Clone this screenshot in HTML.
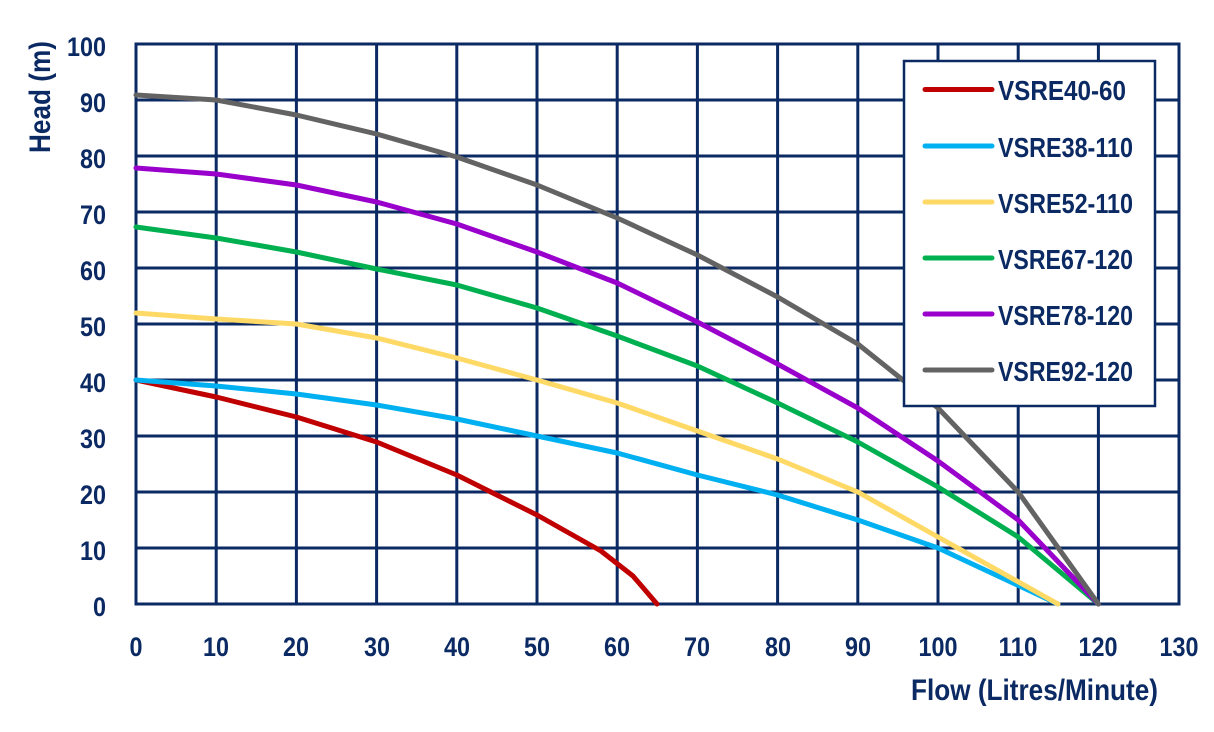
<!DOCTYPE html>
<html><head><meta charset="utf-8"><style>
html,body{margin:0;padding:0;background:#fff;}
svg text{font-family:"Liberation Sans Narrow","Liberation Sans",sans-serif;fill:#0b2a63;font-weight:bold;}
</style></head><body>
<svg width="1214" height="727" viewBox="0 0 1214 727" xmlns="http://www.w3.org/2000/svg">
<g stroke="#0b2a63" stroke-width="3" fill="none">
<rect x="136" y="44" width="1043" height="560"/>
<path d="M216.2 44V604M296.4 44V604M376.6 44V604M456.8 44V604M537 44V604M617.2 44V604M697.4 44V604M777.6 44V604M857.8 44V604M938 44V604M1018.2 44V604M1098.4 44V604"/>
<path d="M136 100H1179M136 156H1179M136 212H1179M136 268H1179M136 324H1179M136 380H1179M136 436H1179M136 492H1179M136 548H1179"/>
</g>
<g font-size="27" text-anchor="end" lengthAdjust="spacingAndGlyphs">
<text x="106" y="56" textLength="39" lengthAdjust="spacingAndGlyphs">100</text>
<text x="106" y="112" textLength="26" lengthAdjust="spacingAndGlyphs">90</text>
<text x="106" y="168" textLength="26" lengthAdjust="spacingAndGlyphs">80</text>
<text x="106" y="224" textLength="26" lengthAdjust="spacingAndGlyphs">70</text>
<text x="106" y="280" textLength="26" lengthAdjust="spacingAndGlyphs">60</text>
<text x="106" y="336" textLength="26" lengthAdjust="spacingAndGlyphs">50</text>
<text x="106" y="392" textLength="26" lengthAdjust="spacingAndGlyphs">40</text>
<text x="106" y="448" textLength="26" lengthAdjust="spacingAndGlyphs">30</text>
<text x="106" y="504" textLength="26" lengthAdjust="spacingAndGlyphs">20</text>
<text x="106" y="560" textLength="26" lengthAdjust="spacingAndGlyphs">10</text>
<text x="106" y="616" textLength="13" lengthAdjust="spacingAndGlyphs">0</text>
</g>
<g font-size="27" text-anchor="middle">
<text x="136" y="656" textLength="13" lengthAdjust="spacingAndGlyphs">0</text>
<text x="216" y="656" textLength="26" lengthAdjust="spacingAndGlyphs">10</text>
<text x="296" y="656" textLength="26" lengthAdjust="spacingAndGlyphs">20</text>
<text x="377" y="656" textLength="26" lengthAdjust="spacingAndGlyphs">30</text>
<text x="457" y="656" textLength="26" lengthAdjust="spacingAndGlyphs">40</text>
<text x="537" y="656" textLength="26" lengthAdjust="spacingAndGlyphs">50</text>
<text x="617" y="656" textLength="26" lengthAdjust="spacingAndGlyphs">60</text>
<text x="697" y="656" textLength="26" lengthAdjust="spacingAndGlyphs">70</text>
<text x="778" y="656" textLength="26" lengthAdjust="spacingAndGlyphs">80</text>
<text x="858" y="656" textLength="26" lengthAdjust="spacingAndGlyphs">90</text>
<text x="938" y="656" textLength="39" lengthAdjust="spacingAndGlyphs">100</text>
<text x="1018" y="656" textLength="39" lengthAdjust="spacingAndGlyphs">110</text>
<text x="1098" y="656" textLength="39" lengthAdjust="spacingAndGlyphs">120</text>
<text x="1179" y="656" textLength="39" lengthAdjust="spacingAndGlyphs">130</text>
</g>
<text x="911" y="700" font-size="30" textLength="247" lengthAdjust="spacingAndGlyphs">Flow (Litres/Minute)</text>
<text transform="translate(50,153) rotate(-90)" x="0" y="0" font-size="30" textLength="112" lengthAdjust="spacingAndGlyphs">Head (m)</text>
<g fill="none" stroke-width="5" stroke-linejoin="round" stroke-linecap="round">
<polyline stroke="#c00000" points="136,380 216.2,397 296.4,417 376.6,442 456.8,475 537,515 601,551 633,576 657,604"/>
<polyline stroke="#00b0f0" points="136,380 216.2,386 296.4,394 376.6,405 456.8,419 537,436 617.2,453 697.4,475 777.6,495 857.8,520 938,548 1058,604"/>
<polyline stroke="#ffd966" points="136,313 216.2,319 296.4,324 376.6,338 456.8,358 537,380 617.2,403 697.4,431 777.6,459 857.8,492 938,537 1058,604"/>
<polyline stroke="#00b050" points="136,227 216.2,238 296.4,252 376.6,269 456.8,285 537,308 617.2,336 697.4,366 777.6,403 857.8,442 938,487 1018.2,537 1098.4,604"/>
<polyline stroke="#9900cc" points="136,168 216.2,174 296.4,185 376.6,202 456.8,224 537,252 617.2,283 697.4,322 777.6,364 857.8,408 938,461 1018.2,520 1098.4,604"/>
<polyline stroke="#636363" points="136,95 216.2,100 296.4,115 376.6,134 456.8,157 537,185 617.2,218 697.4,255 777.6,297 857.8,344 938,408 1018.2,492 1098.4,604"/>
</g>
<rect x="904" y="61" width="251" height="345" fill="#fff" stroke="#0b2a63" stroke-width="2.5"/>
<g stroke-width="5" stroke-linecap="round">
<line x1="925" y1="89.5" x2="992" y2="89.5" stroke="#c00000"/>
<line x1="925" y1="146" x2="992" y2="146" stroke="#00b0f0"/>
<line x1="925" y1="202" x2="992" y2="202" stroke="#ffd966"/>
<line x1="925" y1="258" x2="992" y2="258" stroke="#00b050"/>
<line x1="925" y1="314" x2="992" y2="314" stroke="#9900cc"/>
<line x1="925" y1="370" x2="992" y2="370" stroke="#636363"/>
</g>
<g font-size="28">
<text x="998" y="100" textLength="128" lengthAdjust="spacingAndGlyphs">VSRE40-60</text>
<text x="998" y="157" textLength="135" lengthAdjust="spacingAndGlyphs">VSRE38-110</text>
<text x="998" y="213" textLength="135" lengthAdjust="spacingAndGlyphs">VSRE52-110</text>
<text x="998" y="269" textLength="135" lengthAdjust="spacingAndGlyphs">VSRE67-120</text>
<text x="998" y="325" textLength="135" lengthAdjust="spacingAndGlyphs">VSRE78-120</text>
<text x="998" y="381" textLength="135" lengthAdjust="spacingAndGlyphs">VSRE92-120</text>
</g>
</svg>
</body></html>
